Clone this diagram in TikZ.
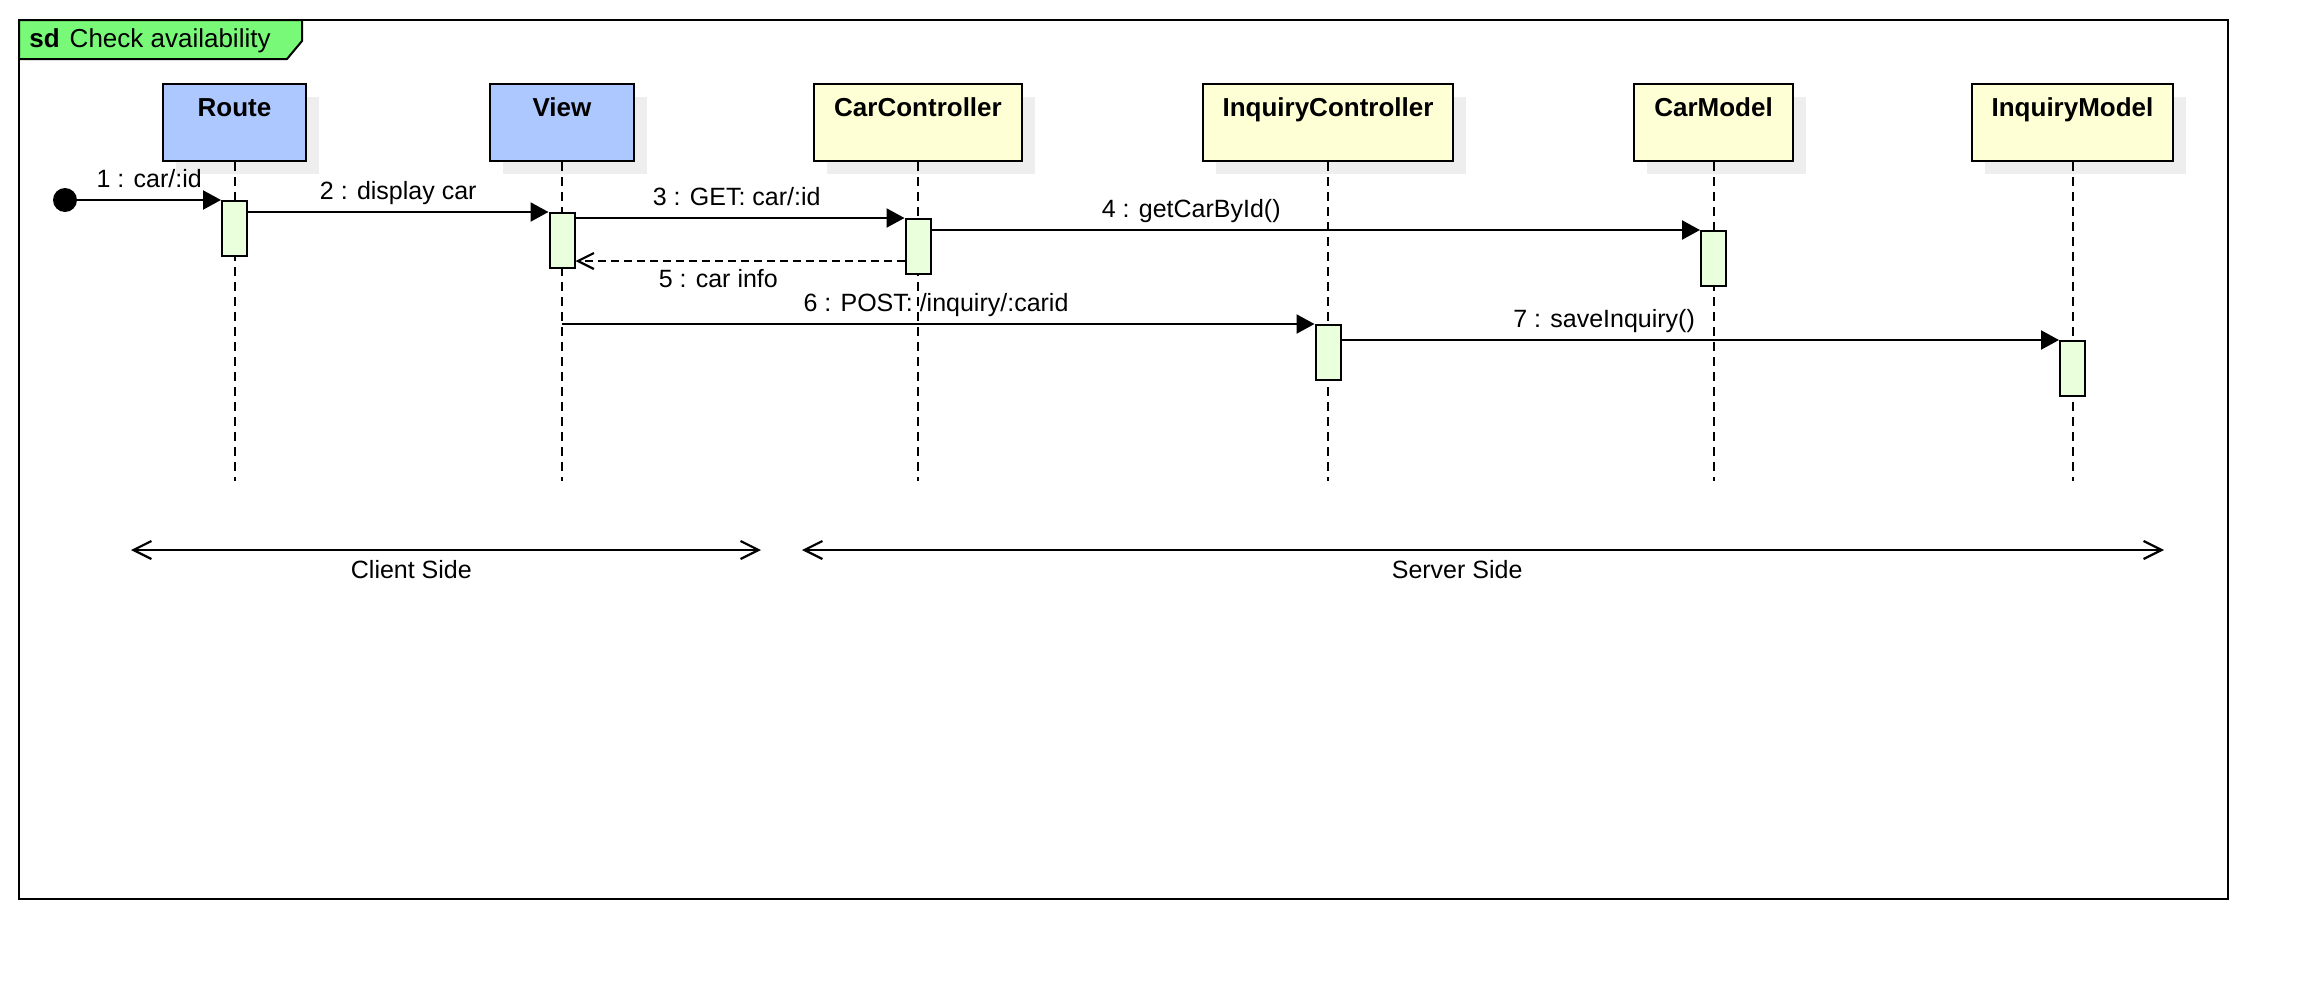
\documentclass[tikz,border=0pt]{standalone}
\usepackage{fontspec}
\setmainfont{Liberation Sans}
\usetikzlibrary{arrows.meta,shadows}

\definecolor{headblue}{RGB}{173,200,255}
\definecolor{headyellow}{RGB}{255,255,213}
\definecolor{actgreen}{RGB}{234,255,220}
\definecolor{tabgreen}{RGB}{120,250,120}
\definecolor{shadowgray}{RGB}{238,238,238}

\begin{document}
\begin{tikzpicture}[line join=miter, x=0.5pt, y=-0.5pt,
    every node/.style={font=\fontsize{12.5}{15}\selectfont},
    head/.style={draw, line width=1pt, minimum height=38.5pt, inner sep=0pt, align=center,
        font=\fontsize{13}{15}\selectfont\bfseries,
        drop shadow={shadow xshift=6.5pt, shadow yshift=-6.5pt, fill=shadowgray, opacity=1}},
    act/.style={draw, line width=1pt, fill=actgreen, minimum width=12.5pt, minimum height=27.5pt, inner sep=0pt, anchor=north},
    lifeline/.style={line width=1pt, dash pattern=on 4.5pt off 3pt},
    msg/.style={line width=1.1pt, -{Triangle[length=9pt,width=9.5pt]}},
    reply/.style={line width=1.1pt, dash pattern=on 4pt off 2.5pt, -{Straight Barb[length=8pt,width=8pt]}},
    span/.style={line width=1.1pt, {Straight Barb[length=9pt,width=9pt]}-{Straight Barb[length=9pt,width=9pt]}},
    lbl/.style={anchor=base, inner sep=0pt, yshift=6.5pt},
    lblbelow/.style={anchor=base, inner sep=0pt, yshift=-13.25pt}]

    \useasboundingbox (0,0) rectangle (2308,980);

    \draw[line width=1pt] (19,20) rectangle (2228,899);
    \draw[line width=1pt, fill=tabgreen] (19,20) -- (302,20) -- (302,41) -- (287,59) -- (19,59) -- cycle;
    \node[anchor=base west, inner sep=0pt, font=\fontsize{13}{15}\selectfont] (title) at (29,47) {\textbf{sd}\hspace{5pt}Check availability};

    \node[head, fill=headblue, minimum width=71.5pt] (route) at (234.5,122.5) {Route\\\mbox{}};
    \node[head, fill=headblue, minimum width=72pt] (view) at (562,122.5) {View\\\mbox{}};
    \node[head, fill=headyellow, minimum width=104pt] (carctrl) at (918,122.5) {CarController\\\mbox{}};
    \node[head, fill=headyellow, minimum width=125pt] (inqctrl) at (1328,122.5) {InquiryController\\\mbox{}};
    \node[head, fill=headyellow, minimum width=79.5pt] (carmodel) at (1713.5,122.5) {CarModel\\\mbox{}};
    \node[head, fill=headyellow, minimum width=100.5pt] (inqmodel) at (2072.5,122.5) {InquiryModel\\\mbox{}};

    \coordinate (lifeend) at (0,481);
    \draw[lifeline] (route.south) -- (route.south |- lifeend);
    \draw[lifeline] (view.south) -- (view.south |- lifeend);
    \draw[lifeline] (carctrl.south) -- (carctrl.south |- lifeend);
    \draw[lifeline] (inqctrl.south) -- (inqctrl.south |- lifeend);
    \draw[lifeline] (carmodel.south) -- (carmodel.south |- lifeend);
    \draw[lifeline] (inqmodel.south) -- (inqmodel.south |- lifeend);

    \node[act] (ra) at (234.5,200) {};
    \node[act] (va) at (562,212) {};
    \node[act] (ca) at (918,218) {};
    \node[act] (ma) at (1713.5,230) {};
    \node[act] (ia) at (1328,324) {};
    \node[act] (qa) at (2072.5,340) {};

    \node[circle, fill, minimum size=12pt, inner sep=0pt] (start) at (65,200) {};

    \draw[msg] (start) -- (ra.north west) node[lbl, pos=0.5] (l1) {1 : car/:id};
    \draw[msg] (ra.east |- va.north) -- (va.north west) node[lbl, pos=0.5] (l2) {2 : display car};
    \draw[msg] (va.east |- ca.north) -- (ca.north west) node[lbl, pos=0.49] (l3) {3 : GET: car/:id};
    \draw[msg] (ca.east |- ma.north) -- (ma.north west) node[lbl, pos=0.338] (l4) {4 : getCarById()};
    \coordinate (back) at (0,261);
    \draw[reply] (ca.west |- back) -- (va.east |- back) node[lblbelow, pos=0.566] (l5) {5 : car info};
    \draw[msg] (view.south |- ia.north) -- (ia.north west) node[lbl, pos=0.497] (l6) {6 : POST: /inquiry/:carid};
    \draw[msg] (ia.east |- qa.north) -- (qa.north west) node[lbl, pos=0.366] (l7) {7 : saveInquiry()};

    \coordinate (clientl) at (131,550);
    \coordinate (clientr) at (761,550);
    \coordinate (serverl) at (802,550);
    \coordinate (serverr) at (2164,550);
    \draw[span] (clientl) -- (clientr) node[anchor=base, inner sep=0pt, yshift=-14.25pt, pos=0.445] (client) {Client Side};
    \draw[span] (serverl) -- (serverr) node[anchor=base, inner sep=0pt, yshift=-14.25pt, pos=0.481] (server) {Server Side};

\end{tikzpicture}
\end{document}
